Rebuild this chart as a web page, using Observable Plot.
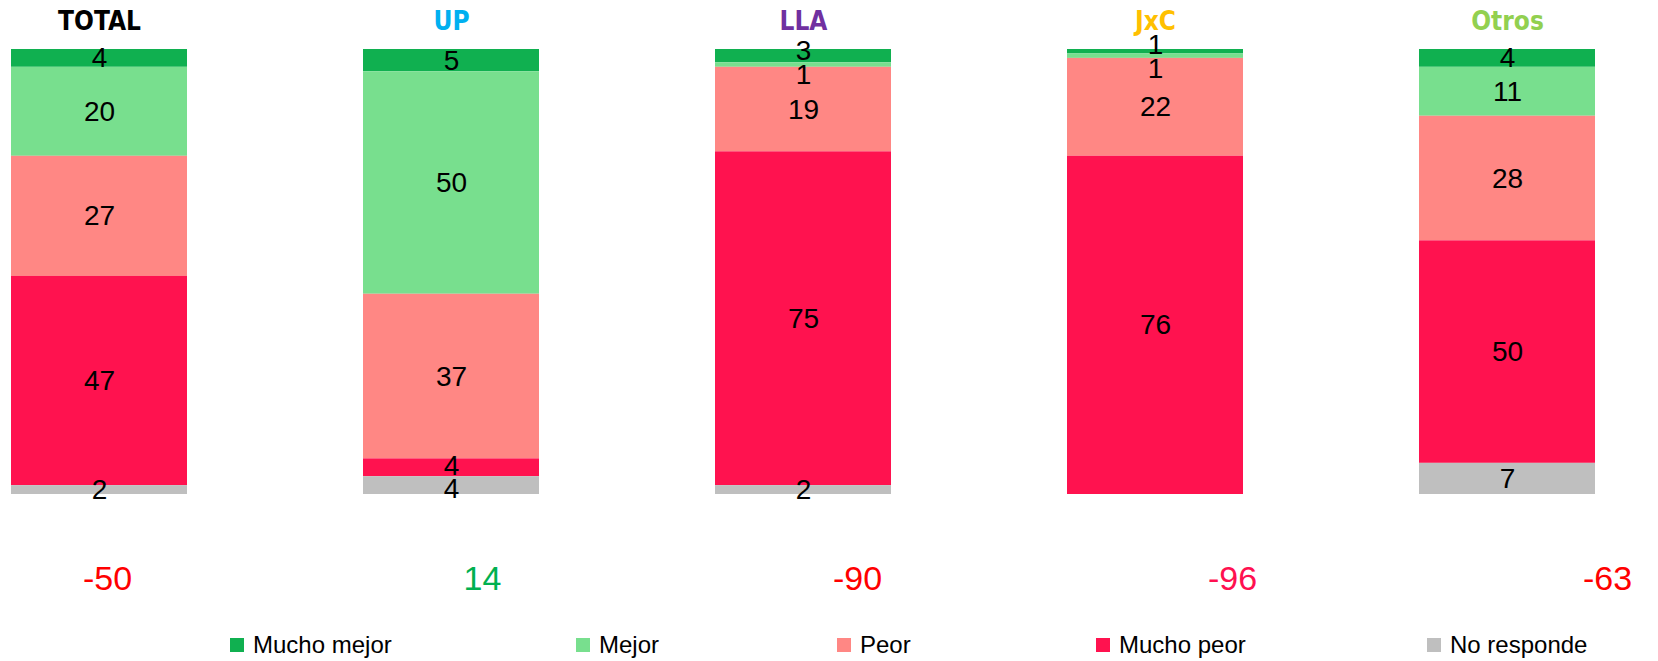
<!DOCTYPE html>
<html>
<head>
<meta charset="utf-8">
<script src="https://cdn.jsdelivr.net/npm/d3@7"></script>
<script src="https://cdn.jsdelivr.net/npm/@observablehq/plot@0.6"></script>
<style>
  html, body { margin: 0; padding: 0; background: #fff; }
  #wrap { position: relative; width: 1658px; height: 661px; overflow: hidden; font-family: "Liberation Sans", Arial, sans-serif; }
  #main { position: absolute; left: 0; top: 0; }
  #net { position: absolute; left: 0; top: 520px; }
  #legend { position: absolute; left: 0; top: 631px; width: 1658px; height: 30px; }
  .item { position: absolute; top: 0; display: flex; align-items: center; font-size: 24px; color: #000; font-family: "Liberation Sans", Arial, sans-serif; }
  .sw { width: 14px; height: 14px; margin-right: 9px; }
</style>
</head>
<body>
<div id="wrap">
  <div id="main"></div>
  <div id="net"></div>
  <div id="legend"></div>
</div>
<script>
// ---- data ----
const groups = ["TOTAL", "UP", "LLA", "JxC", "Otros"];
const categories = ["Mucho mejor", "Mejor", "Peor", "Mucho peor", "No responde"];
const muchoMejor = [4, 5, 3, 1, 4];
const mejor      = [20, 50, 1, 1, 11];
const peor       = [27, 37, 19, 22, 28];
const muchoPeor  = [47, 4, 75, 76, 50];
const noResponde = [2, 4, 2, 0, 7];
const netValues  = [-50, 14, -90, -96, -63];

// ---- styles ----
const catColors = ["#10B050", "#78DF8E", "#FF8784", "#FF124F", "#BFBFBF"];
const titleColors = ["#000000", "#00B0F0", "#7030A0", "#FFC000", "#92D050"];
const netColors = ["#FF0000", "#00B050", "#FF0000", "#FF1050", "#FF0000"];

const series = [muchoMejor, mejor, peor, muchoPeor, noResponde];
const rows = [];
groups.forEach((g, i) => {
  categories.forEach((c, j) => {
    rows.push({group: g, cat: c, value: series[j][i]});
  });
});

// label positions: segment midpoints, pushed apart when too close (in % units)
const minGap = 5.3;
const labels = [];
groups.forEach((g, i) => {
  let cum = 0;
  const ls = [];
  categories.forEach((c, j) => {
    const v = series[j][i];
    if (v > 0) ls.push({group: g, cat: c, value: v, pos: cum + v / 2});
    cum += v;
  });
  for (let pass = 0; pass < 20; pass++) {
    for (let k = 1; k < ls.length; k++) {
      const gap = ls[k].pos - ls[k - 1].pos;
      if (gap < minGap) {
        const d = minGap - gap;
        ls[k - 1].pos -= d / 3;
        ls[k].pos += 2 * d / 3;
      }
    }
  }
  labels.push(...ls);
});

const xScale = {domain: groups, range: [10.5, 1594.5], paddingInner: 0.5, paddingOuter: 0, align: 0.5, axis: null};

const main = Plot.plot({
  width: 1658,
  height: 520,
  marginTop: 49,
  marginBottom: 26,
  marginLeft: 0,
  marginRight: 0,
  x: xScale,
  y: {domain: [0, 100], range: [49, 494], axis: null},
  color: {domain: categories, range: catColors},
  style: {fontFamily: "Liberation Sans, Arial, sans-serif", background: "transparent", overflow: "visible"},
  marks: [
    Plot.barY(rows, Plot.stackY({x: "group", y: "value", fill: "cat", order: categories, inset: 0})),
    Plot.text(labels, {
      x: "group", y: "pos", text: d => String(d.value),
      fill: "#000", fontSize: 28, lineAnchor: "middle"
    }),
    Plot.text(groups, {
      x: d => d, text: d => d, frameAnchor: "top", dy: -28, lineAnchor: "middle",
      fill: d => titleColors[groups.indexOf(d)],
      fontSize: 26, fontWeight: "bold",
      fontFamily: "Liberation Sans Narrow, DejaVu Sans Condensed, Liberation Sans, sans-serif"
    })
  ]
});
document.getElementById("main").appendChild(main);

const netData = groups.map((g, i) => ({group: g, net: netValues[i]}));
const net = Plot.plot({
  width: 1658,
  height: 118,
  margin: 0,
  x: {type: "point", domain: groups, range: [106, 1607], padding: 0, axis: null},
  style: {fontFamily: "Liberation Sans, Arial, sans-serif", background: "transparent"},
  marks: [
    Plot.text(netData, {
      x: "group", text: d => String(d.net), frameAnchor: "middle",
      fill: d => netColors[groups.indexOf(d.group)], fontSize: 34, lineAnchor: "middle"
    })
  ]
});
document.getElementById("net").appendChild(net);

// legend
const legendX = [230, 576, 837, 1096, 1427];
const legend = document.getElementById("legend");
categories.forEach((c, i) => {
  const item = document.createElement("div");
  item.className = "item";
  item.style.left = legendX[i] + "px";
  const sw = document.createElement("span");
  sw.className = "sw";
  sw.style.background = catColors[i];
  const t = document.createElement("span");
  t.textContent = c;
  item.appendChild(sw);
  item.appendChild(t);
  legend.appendChild(item);
});
</script>
</body>
</html>
